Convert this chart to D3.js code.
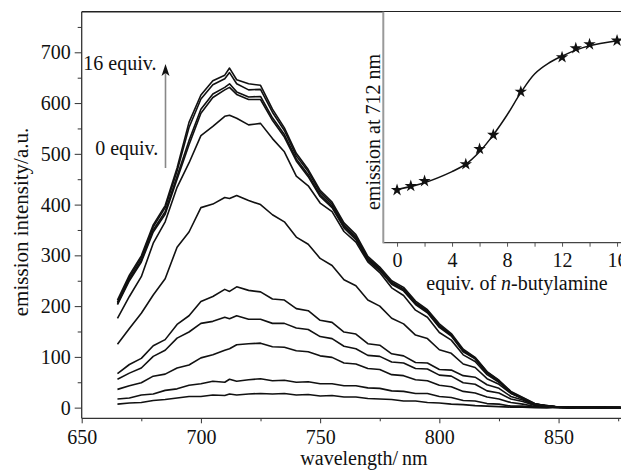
<!DOCTYPE html>
<html>
<head>
<meta charset="utf-8">
<script src="https://cdn.jsdelivr.net/npm/d3@7"></script>
<style>
  body { margin: 0; background: #fff; }
  svg, svg text { font-family: "Liberation Serif", "DejaVu Serif", serif; }
</style>
</head>
<body>
<script>
// emission spectra, one array per equivalent of n-butylamine
var wavelengths = [665,670,675,680,685,690,695,700,705,710,712,715,720,725,730,735,740,745,750,755,760,765,770,775,780,785,790,795,800,805,810,815,820,825,830,835,840,845,850,855,860,870,876];

var eq0  = [7,9,10,14,16,19,22,22,25,24,27,25,27,28,27,28,25,26,23,24,21,21,18,17,16,13,13,10,9,7,6,4,3,2,1,1,0,0,1,0,0,1,0];
var eq1  = [17,19,25,27,34,37,44,47,52,50,56,52,55,57,53,54,50,51,47,47,43,43,39,38,33,32,28,28,22,20,14,13,8,7,3,3,1,0,1,0,1,0,0];
var eq2  = [36,43,49,62,66,78,84,98,104,113,116,124,126,127,120,119,112,110,102,99,88,86,77,75,65,63,55,53,44,41,32,29,21,17,10,7,2,2,0,1,0,0,0];
var eq5  = [56,68,78,101,113,137,149,166,170,178,175,181,174,174,166,166,157,154,140,136,121,116,103,101,90,88,77,76,64,62,49,46,33,29,17,12,4,3,1,0,1,0,0];
var eq6  = [67,85,97,122,134,164,181,209,219,233,229,238,231,228,214,212,195,191,172,168,149,145,126,123,106,102,89,88,75,74,63,60,45,38,22,15,5,3,1,0,1,0,0];
var eq7  = [125,156,186,222,254,316,346,394,401,414,412,418,408,400,380,366,336,322,294,280,252,240,212,200,176,165,143,136,114,107,86,79,57,46,28,18,7,4,1,1,0,0,0];
var eq9  = [176,219,258,324,366,434,482,536,554,574,576,570,557,560,530,504,456,437,403,386,347,326,287,266,236,221,192,178,148,133,104,91,65,50,29,18,7,4,1,0,1,0,0];
var eq12 = [203,250,287,346,381,450,518,580,611,626,631,617,607,607,566,533,486,455,416,394,354,331,290,270,243,230,203,187,158,141,110,96,68,51,29,18,6,3,1,0,1,0,0];
var eq13 = [205,253,290,350,386,456,526,588,618,631,638,622,612,613,571,538,490,459,419,397,357,334,293,272,245,232,205,189,160,143,112,97,69,52,30,19,7,3,1,0,1,0,0];
var eq14 = [208,257,295,356,394,466,552,608,636,648,660,638,626,627,582,546,496,465,424,401,360,337,295,274,247,234,207,191,162,144,113,98,70,53,31,19,7,3,1,0,1,0,0];
var eq16 = [212,261,299,360,398,472,562,616,644,655,669,646,638,635,588,551,501,469,428,405,364,341,298,277,250,237,210,193,165,146,115,99,71,54,32,20,8,3,1,0,1,0,0];

var spectra = [eq0, eq1, eq2, eq5, eq6, eq7, eq9, eq12, eq13, eq14, eq16];

// inset: emission at 712 nm vs equivalents
var insetEquiv = [0,1,2,5,6,7,9,12,13,14,16];
var insetEmission = [22.9,24.7,26.8,34.1,40.7,46.8,65.5,80.4,84.3,86.0,87.6];
var fitEquiv = [0,2,4,5,6,7,8,9,10,11,12,13,14,16];
var fitEmission = [23.2,26.1,30.9,34.1,39.5,46.8,55.4,65.1,73.2,77.8,80.9,83.5,85.4,87.6];

var yTicks = [0,100,200,300,400,500,600,700];
var yMinor = [50,150,250,350,450,550,650,750];
var xTicks = [650,700,750,800,850];
var xMinor = [675,725,775,825,875];
var insetTicks = [0,4,8,12,16];
var insetMinor = [2,6,10,14];

var width = 621, height = 470;
var serif = "Liberation Serif";

var svg = d3.select("body").append("svg")
  .attr("width", width)
  .attr("height", height);

var x = d3.scaleLinear().domain([650, 880]).range([81.7, 630.1]);
var y = d3.scaleLinear().domain([-21, 780]).range([418.3, 11.7]);

// curves
var line = d3.line()
  .x(function(d) { return x(d[0]); })
  .y(function(d) { return y(d[1]); });

svg.append("g")
  .selectAll("path")
  .data(spectra)
  .enter()
  .append("path")
    .attr("d", function(s) { return line(wavelengths.map(function(w, i) { return [w, s[i]]; })); })
    .attr("fill", "none")
    .attr("stroke", "#111")
    .attr("stroke-width", 1.6)
    .attr("stroke-linejoin", "round");

// axes
svg.append("g")
  .attr("transform", "translate(81.7,0)")
  .call(d3.axisLeft(y).tickValues(yTicks).tickSize(7).tickPadding(4));
svg.append("g")
  .attr("transform", "translate(81.7,0)")
  .call(d3.axisLeft(y).tickValues(yMinor).tickSize(4).tickFormat(""));

svg.append("g")
  .attr("transform", "translate(0,418.3)")
  .call(d3.axisBottom(x).tickValues(xTicks).tickSize(5).tickPadding(7));
svg.append("g")
  .attr("transform", "translate(0,418.3)")
  .call(d3.axisBottom(x).tickValues(xMinor).tickSize(3).tickFormat(""));

svg.selectAll("g")
  .attr("font-family", serif)
  .attr("font-size", 20);
svg.selectAll(".domain").remove();
svg.selectAll(".tick line").attr("stroke", "#333");
svg.selectAll(".tick text")
  .style("font-family", serif)
  .style("font-size", "20px")
  .attr("fill", "#111");

// spines
svg.append("line").attr("x1", 81.7).attr("x2", 81.7).attr("y1", 11.7).attr("y2", 418.3)
  .attr("stroke", "#333").attr("stroke-width", 1.3);
svg.append("line").attr("x1", 81.7).attr("x2", 621).attr("y1", 418.3).attr("y2", 418.3)
  .attr("stroke", "#333").attr("stroke-width", 1.3);
svg.append("line").attr("x1", 81.7).attr("x2", 621).attr("y1", 11.7).attr("y2", 11.7)
  .attr("stroke", "#222").attr("stroke-width", 1.5);

// axis titles
svg.append("text")
  .attr("x", 364).attr("y", 465)
  .attr("text-anchor", "middle")
  .attr("font-size", 20)
  .attr("fill", "#111")
  .text("wavelength/\u2009nm");

svg.append("text")
  .attr("transform", "translate(28,222) rotate(-90)")
  .attr("text-anchor", "middle")
  .attr("font-size", 21)
  .attr("fill", "#111")
  .text("emission intensity/a.u.");

// arrow and labels
svg.append("line")
  .attr("x1", 165.5).attr("x2", 165.5)
  .attr("y1", 168).attr("y2", 72)
  .attr("stroke", "#888").attr("stroke-width", 1.6);
svg.append("path")
  .attr("d", "M161.5,76 L165.5,64 L169.5,76 L165.5,73 Z")
  .attr("fill", "#111");

svg.append("text")
  .attr("x", 83.3).attr("y", 70)
  .attr("font-size", 20).attr("fill", "#111")
  .text("16 equiv.");
svg.append("text")
  .attr("x", 158.3).attr("y", 155)
  .attr("text-anchor", "end")
  .attr("font-size", 20).attr("fill", "#111")
  .text("0 equiv.");

// inset
var ix = d3.scaleLinear().domain([-1, 17]).range([383.3, 630.8]);
var iy = d3.scaleLinear().domain([0, 100]).range([243, 12]);

var inset = svg.append("g");

inset.append("rect")
  .attr("x", 383.3).attr("y", 12)
  .attr("width", 621 - 383.3).attr("height", 243 - 12)
  .attr("fill", "#fff");

inset.append("g")
  .attr("transform", "translate(0,242.7)")
  .call(d3.axisBottom(ix).tickValues(insetTicks).tickSize(4).tickPadding(6));
inset.append("g")
  .attr("transform", "translate(0,242.7)")
  .call(d3.axisBottom(ix).tickValues(insetMinor).tickSize(4).tickFormat(""));

inset.selectAll("g")
  .attr("font-family", serif)
  .attr("font-size", 20);
inset.selectAll(".domain").remove();
inset.selectAll(".tick line").attr("stroke", "#555");
inset.selectAll(".tick text")
  .style("font-family", serif)
  .style("font-size", "20px")
  .attr("fill", "#111");

inset.append("line").attr("x1", 383.3).attr("x2", 621).attr("y1", 242.7).attr("y2", 242.7)
  .attr("stroke", "#444").attr("stroke-width", 1.3);
inset.append("line").attr("x1", 383.3).attr("x2", 383.3).attr("y1", 11.7).attr("y2", 243.3)
  .attr("stroke", "#999").attr("stroke-width", 2);

var fitLine = d3.line()
  .curve(d3.curveCatmullRom)
  .x(function(d, i) { return ix(fitEquiv[i]); })
  .y(function(d) { return iy(d); });

inset.append("path")
  .attr("d", fitLine(fitEmission))
  .attr("fill", "none")
  .attr("stroke", "#111")
  .attr("stroke-width", 1.5);

inset.selectAll(".star")
  .data(insetEmission)
  .enter()
  .append("path")
    .attr("class", "star")
    .attr("transform", function(d, i) { return "translate(" + ix(insetEquiv[i]) + "," + iy(d) + ")"; })
    .attr("d", d3.symbol(d3.symbolStar).size(48))
    .attr("fill", "#111");

inset.append("text")
  .attr("x", 517).attr("y", 290)
  .attr("text-anchor", "middle")
  .attr("font-size", 20).attr("fill", "#111")
  .html('equiv. of <tspan font-style="italic">n</tspan>-butylamine');

inset.append("text")
  .attr("transform", "translate(380,132) rotate(-90)")
  .attr("text-anchor", "middle")
  .attr("font-size", 20).attr("fill", "#111")
  .text("emission at 712 nm");
</script>
</body>
</html>
